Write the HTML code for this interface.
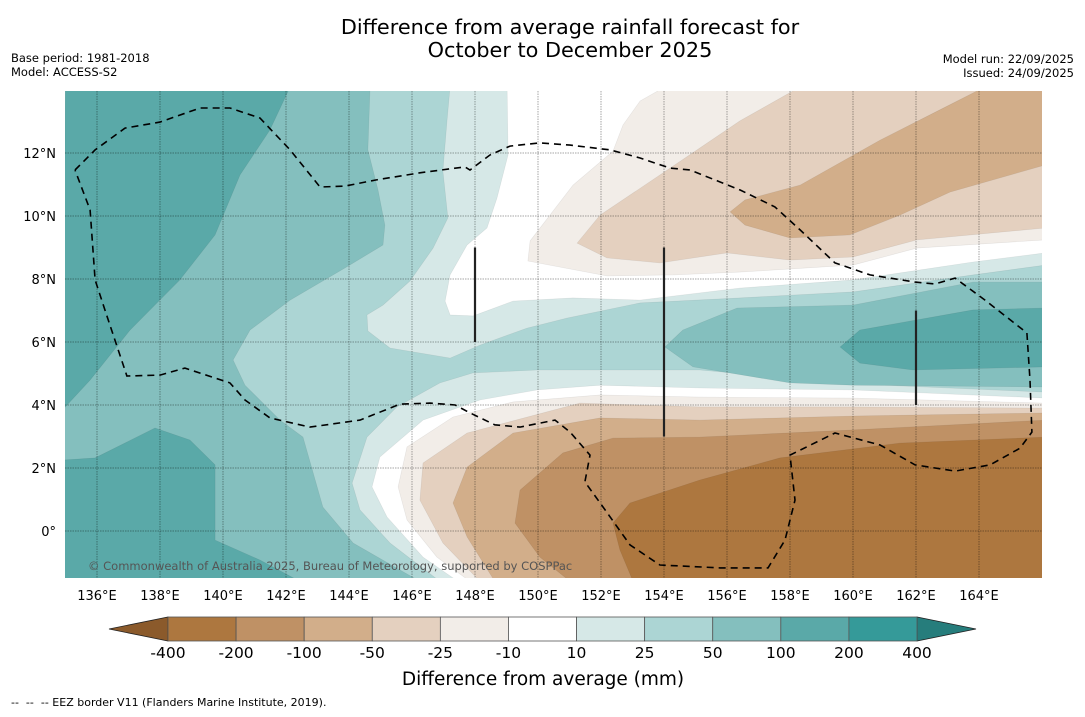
<!DOCTYPE html>
<html><head><meta charset="utf-8">
<style>
html,body{margin:0;padding:0;background:#fff;}
body{width:1085px;height:713px;overflow:hidden;font-family:"DejaVu Sans","Liberation Sans",sans-serif;}
svg text{font-family:"DejaVu Sans","Liberation Sans",sans-serif;white-space:pre;}
</style></head>
<body>
<svg id="chart" width="1085" height="713" viewBox="0 0 1085 713" xmlns="http://www.w3.org/2000/svg">
<text x="570" y="34" font-size="20.8" text-anchor="middle">Difference from average rainfall forecast for</text>
<text x="570" y="57" font-size="20.8" text-anchor="middle">October to December 2025</text>
<text x="11" y="62" font-size="11.5">Base period: 1981-2018</text>
<text x="11" y="76" font-size="11.5">Model: ACCESS-S2</text>
<text x="1074" y="63" font-size="11.5" text-anchor="end">Model run: 22/09/2025</text>
<text x="1074" y="77" font-size="11.5" text-anchor="end">Issued: 24/09/2025</text>
<defs><clipPath id="mapclip"><rect x="65" y="91" width="977" height="487"/></clipPath></defs>
<g id="map" clip-path="url(#mapclip)"></g>
<g id="axes"></g>
<g id="cbar"></g>
<text x="543" y="685" font-size="18.5" text-anchor="middle">Difference from average (mm)</text>
<text x="11" y="706" font-size="11" xml:space="preserve">--  --  -- EEZ border V11 (Flanders Marine Institute, 2019).</text>
</svg>
<script>
// Colour levels (mm)
const levels = [-400,-200,-100,-50,-25,-10,10,25,50,100,200,400];
const levelColors = ["#ad773f","#bf9165","#d2ae8a","#e4d0bf","#f2ede8","#ffffff","#d6e8e7","#acd5d4","#84bfbe","#5aa9a8","#359a99"];
const lonTicks = [136,138,140,142,144,146,148,150,152,154,156,158,160,162,164];
const latTicks = [0,2,4,6,8,10,12];
// Filled contour regions [band index into levelColors, polygon lon/lat]
const bgBand = 8;
const contourBands = [9,9,7,6,6,5,5,4,3,2,8,9,4,3,2,1,0];
const contourPolys = [
 [[135,14.1],[142.13,14.1],[141.49,12.73],[140.54,11.3],[139.75,9.4],[138.63,7.97],[137.05,6.38],[135.78,4.79],[134.9,3.84]],
 [[134.9,2.25],[135.94,2.32],[137.84,3.27],[138.95,2.89],[139.75,2.1],[139.75,-0.29],[141.17,-0.92],[142.44,-1.6],[134.9,-1.6]],
 [[144.67,14.1],[144.6,12.1],[144.92,10.83],[145.14,9.71],[145.08,9.08],[143.87,8.35],[142.13,7.33],[140.86,6.38],[140.32,5.43],[140.7,4.63],[141.81,3.52],[142.54,2.98],[143.17,0.76],[144.13,-0.38],[146.25,-1.6],[166.1,-1.6],[166.1,14.1]],
 [[147.21,14.1],[147.11,13.02],[146.98,11.43],[147.14,9.94],[146.67,8.98],[145.94,7.94],[145.08,7.17],[144.57,6.86],[144.6,6.35],[145.3,5.81],[147.21,5.49],[148.16,5.9],[149.65,6.44],[150.92,6.76],[153.24,7.24],[156.41,7.4],[160,7.59],[163.81,8.13],[166.1,8.44],[166.1,14.1]],
 [[166.1,4.41],[160,4.67],[155.14,5.11],[149.97,5.11],[147.94,5.02],[146.89,4.7],[145.52,3.94],[144.57,2.98],[144.1,1.52],[144.35,0.67],[145.3,-0.38],[146.89,-1.6],[166.1,-1.6]],
 [[149.02,14.1],[149.05,11.94],[148.7,10.57],[148.38,9.62],[147.75,9.08],[147.21,8.13],[147.05,7.3],[147.21,6.86],[147.94,6.83],[149.21,7.3],[151.11,7.4],[153.24,7.33],[156.41,7.71],[160,7.97],[163.81,8.54],[166.1,8.83],[166.1,14.1]],
 [[166.1,4.22],[160,4.48],[155.14,4.54],[151.97,4.63],[149.97,4.48],[148.16,4.16],[146.35,3.52],[144.98,2.35],[144.73,1.4],[145.21,0.44],[146.35,-0.83],[147.46,-1.6],[166.1,-1.6]],
 [[154.03,14.1],[153.24,13.65],[152.7,12.89],[152.38,12.06],[151.11,10.98],[149.75,9.21],[149.68,8.57],[152.19,8.1],[154.29,8.13],[156.41,8.22],[160,8.44],[162.03,8.98],[166.1,9.24],[166.1,14.1]],
 [[158.32,14.1],[156.41,13.02],[153.87,11.3],[151.97,10.03],[151.24,9.14],[152.19,8.67],[153.87,8.51],[156,8.83],[158,8.6],[160,8.7],[162.03,9.24],[166.1,9.62],[166.1,14.1]],
 [[164.19,14.1],[162.76,13.37],[160.86,12.41],[158.32,10.98],[156.57,10.51],[156.1,10.13],[156.57,9.71],[158,9.3],[159.9,9.4],[161.49,10.03],[163.08,10.76],[166.1,11.62],[166.1,14.1]],
 [[154.03,5.84],[154.6,6.38],[156.32,7.08],[160,7.17],[163.81,7.9],[166.1,7.9],[166.1,4.57],[160,4.63],[158,4.7],[154.92,5.21]],
 [[159.59,5.84],[160.22,6.38],[163.81,7.02],[166.1,7.08],[166.1,5.21],[161.9,5.11],[160.22,5.33]],
 [[166.1,4.06],[160,4.22],[155.14,4.25],[151.97,4.32],[149.21,4.1],[147.3,3.62],[145.84,2.67],[145.56,1.4],[145.84,0.35],[146.79,-0.83],[147.84,-1.6],[166.1,-1.6]],
 [[166.1,3.9],[160,3.94],[155.14,3.94],[151.33,4.06],[147.75,3.11],[146.35,2.16],[146.25,0.98],[146.98,-0.38],[148.16,-1.6],[166.1,-1.6]],
 [[166.1,3.75],[160,3.65],[155.14,3.52],[151.97,3.59],[149.21,3.11],[147.75,2.03],[147.3,0.89],[147.75,-0.19],[148.63,-1.6],[166.1,-1.6]],
 [[166.1,3.52],[160,3.21],[155.14,2.98],[152.38,2.95],[150.79,2.48],[149.43,1.3],[149.27,0.25],[150.06,-0.83],[151.02,-1.6],[166.1,-1.6]],
 [[166.1,2.98],[161.49,2.79],[157.68,2.32],[155.14,1.62],[152.92,0.89],[152.38,0.25],[152.6,-0.6],[153.02,-1.6],[166.1,-1.6]]
];
const eezBorder = [[135.3,11.46],[135.94,12.1],[136.89,12.79],[138,12.98],[139.27,13.43],[140.22,13.43],[141.17,13.11],[142.13,12.1],[143.08,10.92],[143.87,10.95],[144.83,11.14],[146.25,11.37],[147.68,11.56],[147.84,11.46],[148.48,11.94],[149.11,12.22],[150.06,12.32],[151.02,12.25],[152.29,12.1],[153.24,11.84],[154.19,11.52],[154.83,11.46],[155.78,11.08],[156.41,10.83],[157.52,10.29],[158.32,9.56],[159.43,8.51],[160.54,8.13],[161.97,7.9],[162.6,7.84],[163.24,8.03],[164.19,7.33],[165.52,6.29],[165.62,4.79],[165.68,3.14],[165.3,2.63],[164.35,2.1],[163.24,1.9],[161.97,2.1],[160.86,2.73],[159.43,3.11],[158,2.41],[158.16,0.98],[157.84,-0.29],[157.3,-1.17],[155.78,-1.17],[153.87,-1.08],[152.92,-0.44],[152.13,0.67],[151.49,1.56],[151.65,2.41],[151.02,3.14],[150.54,3.52],[149.43,3.3],[148.63,3.37],[147.84,3.75],[147.37,4],[146.57,4.06],[145.62,4.03],[144.35,3.52],[142.76,3.3],[141.49,3.59],[140.7,4.16],[140.22,4.7],[138.79,5.17],[138,4.95],[136.95,4.92],[136.25,7.02],[135.94,7.97],[135.78,10.19],[135.3,11.46]];
const markerLon = [148,154,162];
const markerLatLo = [6,3,4];
const markerLatHi = [9,9,7];

const NS="http://www.w3.org/2000/svg";
const X0=65,X1=1042,Y0=91,Y1=578;
function xScale(lon){return 97+(lon-136)*31.5;}
function yScale(lat){return 531-lat*31.5;}
function mk(tag,attrs,parent){const e=document.createElementNS(NS,tag);for(const k in attrs)e.setAttribute(k,attrs[k]);parent.appendChild(e);return e;}
const map=document.getElementById('map');
const bg=mk('rect',{x:X0,y:Y0,width:X1-X0,height:Y1-Y0,fill:levelColors[bgBand]},map);


contourPolys.forEach((poly,i)=>{
  const pts=poly.map(p=>xScale(p[0]).toFixed(1)+','+yScale(p[1]).toFixed(1)).join(' ');
  const el=mk('polygon',{points:pts,fill:levelColors[contourBands[i]],stroke:'rgba(0,0,0,0.08)','stroke-width':0.6},map);
  
  
});
lonTicks.forEach(l=>{
  const g=mk('line',{x1:xScale(l),x2:xScale(l),y1:Y0,y2:Y1,stroke:'rgba(0,0,0,0.35)','stroke-width':1,'stroke-dasharray':'1.5,1'},map);
  
  
});
latTicks.forEach(l=>{
  const g=mk('line',{x1:X0,x2:X1,y1:yScale(l),y2:yScale(l),stroke:'rgba(0,0,0,0.35)','stroke-width':1,'stroke-dasharray':'1.5,1'},map);
  
  
});
const eez=mk('polyline',{points:eezBorder.map(p=>xScale(p[0]).toFixed(1)+','+yScale(p[1]).toFixed(1)).join(' '),fill:'none',stroke:'#000','stroke-width':1.6,'stroke-dasharray':'7,5'},map);


markerLon.forEach((l,i)=>{
  const m=mk('line',{x1:xScale(l),x2:xScale(l),y1:yScale(markerLatHi[i]),y2:yScale(markerLatLo[i]),stroke:'#222','stroke-width':2.2},map);
  
  
});
const cr=mk('text',{x:88,y:570,'font-size':11.5,fill:'#555'},map);
cr.textContent='© Commonwealth of Australia 2025, Bureau of Meteorology, supported by COSPPac';


const axes=document.getElementById('axes');
lonTicks.forEach(l=>{
  const t=mk('text',{x:xScale(l),y:600,'font-size':13,'text-anchor':'middle'},axes);
  t.textContent=l+'°E';
  
  
});
latTicks.forEach(l=>{
  const t=mk('text',{x:56,y:yScale(l)+5,'font-size':13,'text-anchor':'end'},axes);
  t.textContent=l===0?'0°':l+'°N';
  
  
});
const cb=document.getElementById('cbar');
const cbX0=168,cbX1=917,cbY0=617,cbY1=641,nb=levelColors.length,bw=(cbX1-cbX0)/nb;
const lt=mk('polygon',{points:`${cbX0},${cbY0} ${cbX0},${cbY1} 109,629`,fill:'#8b5a2b',stroke:'#222','stroke-width':0.8},cb);


const rt=mk('polygon',{points:`${cbX1},${cbY0} ${cbX1},${cbY1} 976,629`,fill:'#267d7c',stroke:'#222','stroke-width':0.8},cb);


levelColors.forEach((c,i)=>{
  const r=mk('rect',{x:cbX0+i*bw,y:cbY0,width:bw,height:cbY1-cbY0,fill:c,stroke:'#555','stroke-width':0.8},cb);
  
  
});
levels.forEach((v,i)=>{
  const t=mk('text',{x:cbX0+i*bw,y:658,'font-size':15.5,'text-anchor':'middle'},cb);
  t.textContent=v;
  
  
});
</script>
</body></html>
